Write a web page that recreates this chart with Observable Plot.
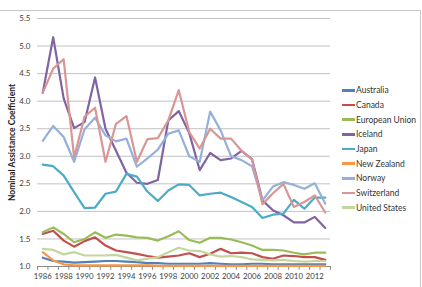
<!DOCTYPE html>
<html><head><meta charset="utf-8">
<script src="https://cdn.jsdelivr.net/npm/d3@7"></script>
<script src="https://cdn.jsdelivr.net/npm/@observablehq/plot@0.6"></script>
<style>
body{margin:0;background:#fff;}
#wrap{position:relative;width:422px;height:287px;overflow:hidden;font-family:Lato,"Open Sans",sans-serif;}
#border{position:absolute;left:-2px;top:10px;width:423px;height:300px;border:1px solid #c6c6c6;box-sizing:border-box;}
#chart{position:absolute;left:0;top:0;}
#legend{position:absolute;left:342px;top:83px;font-size:8.5px;color:#333;}
.item{height:14.66px;display:flex;align-items:center;white-space:nowrap;}
.sw{width:13px;height:2.5px;margin-right:1px;}
</style></head>
<body>
<div id="wrap"><div id="border"></div><div id="chart"></div><div id="legend"></div></div>
<script>
const years = d3.range(1986, 2014);
const countries = ["Australia","Canada","European Union","Iceland","Japan","New Zealand","Norway","Switzerland","United States"];
const colors = ["#4F81BD","#C0504D","#9BBB59","#8064A2","#4BACC6","#F79646","#95B0D9","#D99694","#C3D69B"];
const australia = [1.16,1.10,1.09,1.07,1.08,1.09,1.10,1.10,1.09,1.08,1.06,1.06,1.05,1.05,1.05,1.05,1.06,1.05,1.04,1.04,1.05,1.05,1.04,1.04,1.04,1.04,1.04,1.04];
const canada = [1.59,1.65,1.47,1.36,1.46,1.53,1.38,1.29,1.26,1.23,1.19,1.16,1.18,1.20,1.24,1.17,1.23,1.32,1.24,1.25,1.24,1.17,1.14,1.20,1.19,1.17,1.17,1.12];
const eu = [1.62,1.71,1.59,1.44,1.50,1.62,1.52,1.58,1.56,1.53,1.52,1.47,1.55,1.64,1.48,1.43,1.52,1.52,1.49,1.44,1.38,1.30,1.30,1.29,1.25,1.22,1.25,1.25];
const iceland = [4.15,5.16,4.05,3.51,3.62,4.43,3.50,3.10,2.70,2.52,2.50,2.57,3.65,3.82,3.42,2.75,3.06,2.93,2.96,3.10,2.95,2.20,2.02,1.93,1.80,1.80,1.90,1.70];
const japan = [2.85,2.82,2.65,2.35,2.06,2.07,2.32,2.36,2.68,2.63,2.36,2.19,2.38,2.49,2.48,2.29,2.32,2.34,2.26,2.17,2.08,1.88,1.94,1.96,2.21,2.05,2.25,2.25];
const newZealand = [1.26,1.11,1.04,1.02,1.02,1.02,1.02,1.02,1.02,1.02,1.02,1.01,1.01,1.01,1.01,1.01,1.01,1.01,1.01,1.01,1.01,1.01,1.01,1.01,1.01,1.01,1.01,1.01];
const norway = [3.28,3.55,3.35,2.90,3.49,3.70,3.38,3.27,3.32,2.81,2.96,3.12,3.41,3.47,3.00,2.90,3.81,3.47,3.00,2.93,2.82,2.20,2.45,2.53,2.48,2.41,2.51,2.14];
const switzerland = [4.15,4.59,4.76,2.98,3.72,3.88,2.90,3.59,3.73,2.90,3.31,3.33,3.65,4.20,3.44,3.14,3.50,3.32,3.32,3.10,2.94,2.13,2.33,2.50,2.08,2.17,2.29,1.98];
const unitedStates = [1.32,1.30,1.22,1.26,1.20,1.20,1.20,1.21,1.16,1.11,1.14,1.17,1.26,1.34,1.29,1.28,1.22,1.18,1.19,1.17,1.13,1.12,1.11,1.12,1.10,1.09,1.10,1.10];
const xTicks = d3.range(1986, 2013, 2);
const yTicks = [1.0,1.5,2.0,2.5,3.0,3.5,4.0,4.5,5.0,5.5];
const yLabel = "Nominal Assistance Coefficient";

const seriesValues = [australia,canada,eu,iceland,japan,newZealand,norway,switzerland,unitedStates];
const data = countries.flatMap((c,i)=>years.map((y,j)=>({country:c, year:y, value:seriesValues[i][j]})));
const boundaries = d3.range(1985.5, 2014, 1);

const chart = Plot.plot({
  width:422, height:287,
  marginLeft:37, marginRight:92, marginTop:18, marginBottom:21,
  style:{fontFamily:"Lato, 'Open Sans', sans-serif", background:"transparent"},
  x:{domain:[1985.5,2013.5]},
  y:{domain:[1,5.5]},
  color:{domain:countries, range:colors},
  marks:[
    Plot.ruleY(yTicks.slice(1), {stroke:"#c2c2c2", strokeWidth:1}),
    Plot.ruleY([1], {stroke:"#8a8a8a", strokeWidth:1}),
    Plot.ruleX(boundaries, {y1:1, y2:0.93, stroke:"#8a8a8a", strokeWidth:1}),
    Plot.axisY({ticks:yTicks, tickSize:0, tickPadding:7, tickFormat:d3.format(".1f"), fontSize:8, fill:"#404040", label:null}),
    Plot.axisX({ticks:xTicks, tickSize:0, tickPadding:7, tickFormat:d=>String(d), fontSize:7.8, fill:"#404040", label:null}),
    Plot.text([yLabel], {frameAnchor:"left", textAnchor:"middle", dx:-25, rotate:-90, text:d=>d, fontWeight:"bold", fontSize:8.5, fill:"#222"}),
    Plot.line(data, {x:"year", y:"value", z:"country", stroke:"country", strokeWidth:2.2, strokeLinejoin:"round"})
  ]
});
document.getElementById("chart").appendChild(chart);

const legend = document.getElementById("legend");
countries.forEach((c,i)=>{
  const it = document.createElement("div"); it.className="item";
  const sw = document.createElement("span"); sw.className="sw"; sw.style.background=colors[i];
  const t = document.createElement("span"); t.textContent=c;
  it.appendChild(sw); it.appendChild(t); legend.appendChild(it);
});
</script>
</body></html>
